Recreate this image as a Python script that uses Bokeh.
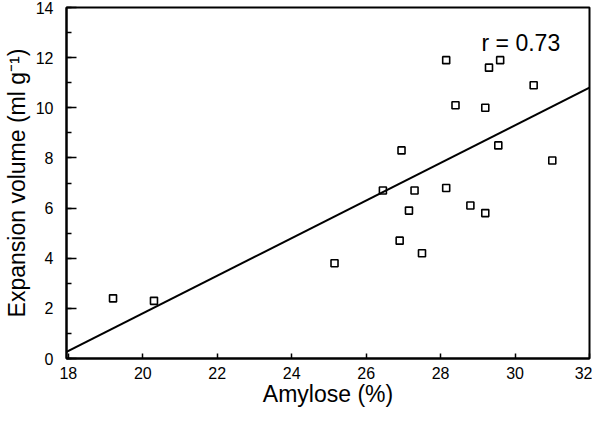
from bokeh.plotting import figure
from bokeh.models import Range1d, SingleIntervalTicker, Slope, Label
from bokeh.embed import file_html
from bokeh.resources import INLINE

# Data
amylose = [19.2, 20.3, 25.15, 26.45, 26.9, 26.95, 27.15, 27.3, 27.5, 28.15,
           28.15, 28.4, 28.8, 29.2, 29.2, 29.3, 29.6, 29.55, 30.5, 31.0]
expansion = [2.4, 2.3, 3.8, 6.7, 4.7, 8.3, 5.9, 6.7, 4.2, 11.9,
             6.8, 10.1, 6.1, 10.0, 5.8, 11.6, 11.9, 8.5, 10.9, 7.9]
fit_slope = 0.75
fit_intercept = -13.2
r_text = "r = 0.73"
x_title = "Amylose (%)"
y_title = "Expansion volume (ml g\u207b\u00b9)"

FONT = "Liberation Sans"

p = figure(width=592, height=409, output_backend="svg", toolbar_location=None,
           x_range=Range1d(17.95, 32.0), y_range=Range1d(0, 14),
           min_border_left=66, min_border_right=3, min_border_top=7,
           min_border_bottom=51)

p.xgrid.visible = False
p.ygrid.visible = False
p.outline_line_color = "black"
p.outline_line_width = 2
p.background_fill_color = "white"
p.border_fill_color = "white"

p.xaxis.ticker = SingleIntervalTicker(interval=2, num_minor_ticks=0)
p.yaxis.ticker = SingleIntervalTicker(interval=2, num_minor_ticks=2)

for ax in (p.xaxis[0], p.yaxis[0]):
    ax.axis_line_color = "black"
    ax.axis_line_width = 2
    ax.major_tick_line_color = "black"
    ax.major_tick_line_width = 1.5
    ax.minor_tick_line_color = "black"
    ax.minor_tick_line_width = 1.5
    ax.major_tick_out = 0
    ax.minor_tick_out = 0
    ax.major_label_text_font = FONT
    ax.major_label_text_font_size = "16px"
    ax.major_label_text_color = "black"
    ax.axis_label_text_font = FONT
    ax.axis_label_text_font_size = "23px"
    ax.axis_label_text_font_style = "normal"
    ax.axis_label_text_color = "black"

p.xaxis.major_tick_in = 5
p.xaxis.major_label_standoff = 8
p.xaxis.axis_label = x_title
p.xaxis.axis_label_standoff = -1

p.yaxis.major_tick_in = 10
p.yaxis.minor_tick_in = 5
p.yaxis.major_label_standoff = 13
p.yaxis.axis_label = y_title
p.yaxis.axis_label_standoff = 3

p.add_layout(Slope(gradient=fit_slope, y_intercept=fit_intercept,
                   line_color="black", line_width=2))

p.scatter(amylose, expansion, marker="square", size=7, fill_color="white",
          line_color="black", line_width=1.6)

p.add_layout(Label(x=29.1, y=12.6, text=r_text, text_font=FONT,
                   text_baseline="alphabetic",
                   text_font_size="23px", text_color="black"))

open("out.html", "w").write(file_html(p, INLINE))
